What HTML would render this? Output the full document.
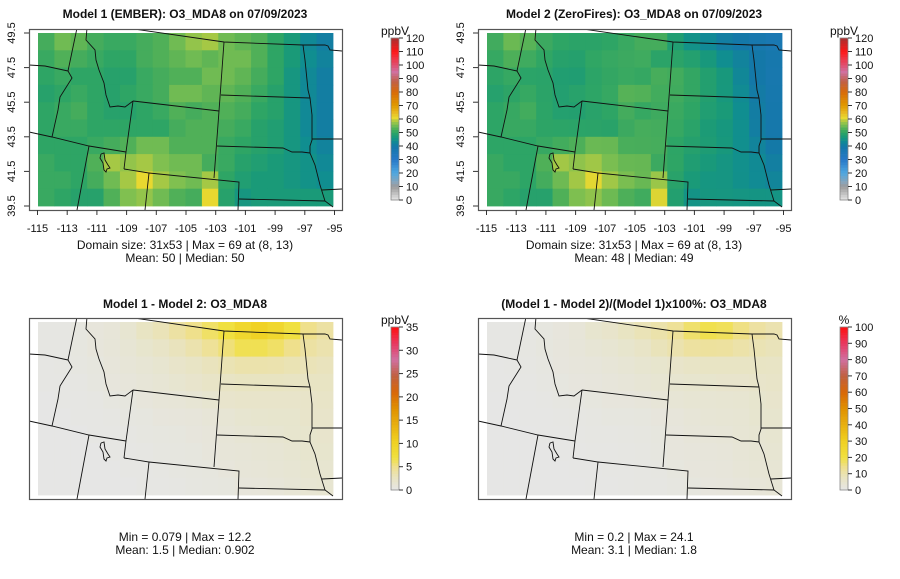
<!DOCTYPE html>
<html><head><meta charset="utf-8">
<style>
html,body{margin:0;padding:0;background:#fff;}
svg{display:block;font-family:"Liberation Sans",Arial,sans-serif;}
</style></head>
<body>
<svg id="chart" width="900" height="579" viewBox="0 0 900 579" xmlns="http://www.w3.org/2000/svg"></svg>
<script>
// ---- data (rows north->south, cols west->east), 10 x 18 coarse grid ----
const lonTicks = [-115,-113,-111,-109,-107,-105,-103,-101,-99,-97,-95];
const latTicks = [39.5,41.5,43.5,45.5,47.5,49.5];
const model1 = [
[52,55,54,52,51,51,52,53,55,57,58,55,54,53,50,47,43,41],
[51,53,52,51,50,50,52,53,54,55,54,55,55,53,50,47,44,42],
[50,51,50,50,49,49,51,52,53,53,55,55,54,52,50,46,43,41],
[49,50,51,50,49,50,51,52,55,55,54,54,53,51,49,46,43,41],
[50,51,52,50,49,49,50,51,53,52,53,53,52,50,49,46,43,41],
[50,51,51,50,50,50,50,50,52,53,53,52,51,49,48,46,43,41],
[50,50,50,51,52,53,55,55,53,53,53,51,50,49,48,46,44,42],
[51,50,50,53,58,57,58,56,55,55,52,51,49,48,47,46,45,43],
[51,51,50,52,55,58,61,58,56,55,58,50,48,47,47,46,45,44],
[51,50,49,49,53,56,57,55,53,52,61,49,46,47,47,47,47,47]];
const diff = [
[0.3,0.3,0.5,0.8,1,1.5,2.5,3,4,5,6,7,9,10,9,7,5,4],
[0.3,0.3,0.5,0.8,1,1.3,1.8,2.2,2.8,3.5,4.5,5.5,6.5,6.5,6,5,4,3.5],
[0.2,0.3,0.4,0.6,0.9,1.1,1.3,1.6,2,2.4,2.8,3.2,3.6,3.6,3.5,3.2,3,2.8],
[0.2,0.2,0.3,0.5,0.7,0.9,1.1,1.3,1.6,1.9,2.2,2.4,2.6,2.6,2.6,2.5,2.5,2.5],
[0.1,0.2,0.2,0.3,0.5,0.6,0.8,1,1.1,1.3,1.6,1.9,2,2,2,2,2.1,2.2],
[0.1,0.1,0.2,0.2,0.3,0.4,0.5,0.7,0.8,0.9,1.1,1.3,1.6,1.7,1.8,1.8,2,2],
[0.1,0.1,0.1,0.2,0.2,0.3,0.4,0.5,0.6,0.7,0.9,1.1,1.3,1.4,1.5,1.7,1.8,1.9],
[0.1,0.1,0.1,0.1,0.2,0.2,0.3,0.4,0.5,0.6,0.8,1,1.1,1.2,1.3,1.5,1.7,1.8],
[0.1,0.1,0.1,0.1,0.1,0.2,0.2,0.3,0.4,0.5,0.6,0.8,1,1.1,1.2,1.4,1.6,1.6],
[0.1,0.1,0.1,0.1,0.1,0.1,0.2,0.2,0.3,0.4,0.5,0.6,0.8,0.9,1,1.2,1.4,1.5]];
const ppbTicks = [0,10,20,30,40,50,60,70,80,90,100,110,120];
const diffTicks = [0,5,10,15,20,25,30,35];
const pctTicks = [0,10,20,30,40,50,60,70,80,90,100];

const NS="http://www.w3.org/2000/svg";
const svg=document.getElementById('chart');
function mk(tag,attrs,parent){const e=document.createElementNS(NS,tag);for(const k in attrs)e.setAttribute(k,attrs[k]);(parent||svg).appendChild(e);return e;}
function hex(h){return [parseInt(h.substr(1,2),16),parseInt(h.substr(3,2),16),parseInt(h.substr(5,2),16)];}
function interp(stops,t){
  if(t<=stops[0][0])return stops[0][1];
  for(let i=1;i<stops.length;i++){if(t<=stops[i][0]){const a=stops[i-1],b=stops[i];const f=(t-a[0])/(b[0]-a[0]);const A=hex(a[1]),B=hex(b[1]);return 'rgb('+A.map((v,j)=>Math.round(v+(B[j]-v)*f)).join(',')+')';}}
  return stops[stops.length-1][1];
}
const ppbStops=[[0,'#e6e6e6'],[10,'#9a9a9a'],[13,'#8aa4b8'],[20,'#50a8e0'],[30,'#2878c8'],[40,'#1478a8'],[44,'#108e90'],[47,'#1a9a78'],[50,'#2ea565'],[53,'#50b058'],[56,'#80c050'],[59,'#b8cc40'],[61,'#e8d830'],[65,'#e8b820'],[70,'#e09a00'],[80,'#d86a08'],[88,'#c06048'],[95,'#d070a0'],[100,'#e05070'],[110,'#ff1818'],[120,'#a83030']];
const diffStops=[[0,'#e6e6e6'],[0.07,'#e8e4c4'],[0.14,'#efe090'],[0.2,'#f0e040'],[0.3,'#f0d020'],[0.4,'#e8b010'],[0.5,'#e09000'],[0.6,'#d86808'],[0.7,'#c06040'],[0.8,'#d070a0'],[0.9,'#e83860'],[1,'#ff1010']];

const X0=37.5, PXDEG=14.85, Y0=33, PYDEG=17.3;
function lonX(lon){return X0+(lon+115)*PXDEG;}
function latY(lat){return Y0+(49.5-lat)*PYDEG;}
const GX0=38, GX1=333, GY0=33, GY1=206;

const borders=[
 [[127,28],[224,42],[303,45],[325,45],[328,46],[330,50],[342,51]],
 [[77,28],[68,71]],
 [[29,65],[45,66],[68,71]],
 [[68,71],[72,78],[60,97],[58,110],[52,137]],
 [[29,132],[52,137],[89,146],[126,152]],
 [[89,146],[77,210]],
 [[133,101],[126,152],[124,169]],
 [[124,169],[149,173],[145,210]],
 [[149,173],[239,182],[238,210]],
 [[87,28],[86,40],[95,50],[96,60],[99,70],[104,83],[106,95],[110,107],[118,106],[125,107],[133,101]],
 [[133,101],[219,111]],
 [[224,42],[219,111],[214,178]],
 [[221,95],[310,98]],
 [[217,146],[283,148],[292,152],[302,152],[310,153]],
 [[239,199],[325,201]],
 [[303,45],[305,60],[308,90],[310,98],[312,115],[312,140],[310,146],[310,153],[315,165],[320,185],[325,201],[333,207]],
 [[312,139],[342,139]],
 [[322,190],[342,189]]
];
const lake=[[101,154],[104,153],[105,160],[108,165],[110,168],[107,169],[106,172],[104,170],[103,163],[100,158],[101,154]];

function panel(dx,dy,grid,colorFn,name,withAxes){
  const g=mk('g',{});
  
  
  const rows=grid.length, cols=grid[0].length;
  const cw=(GX1-GX0)/cols, ch=(GY1-GY0)/rows;
  for(let r=0;r<rows;r++)for(let c=0;c<cols;c++){
    const rc=mk('rect',{x:(dx+GX0+c*cw).toFixed(2),y:(dy+GY0+r*ch).toFixed(2),width:(cw+0.4).toFixed(2),height:(ch+0.4).toFixed(2),fill:colorFn(grid[r][c])},g);
    
    
  }
  const bg=mk('g',{fill:'none',stroke:'#111','stroke-width':0.9},g);
  
  
  const cp='clip'+name;
  const cl=mk('clipPath',{id:cp},svg);mk('rect',{x:dx+29,y:dy+29,width:313,height:181},cl);
  bg.setAttribute('clip-path','url(#'+cp+')');
  borders.forEach(b=>mk('polyline',{points:b.map(p=>(p[0]+dx)+','+(p[1]+dy)).join(' ')},bg));
  mk('polyline',{points:lake.map(p=>(p[0]+dx)+','+(p[1]+dy)).join(' ')},bg);
  const box=mk('rect',{x:dx+29.5,y:dy+29.5,width:313,height:181,fill:'none',stroke:'#555','stroke-width':1.2},g);
  
  
  if(withAxes){
    lonTicks.forEach(l=>{const x=dx+lonX(l);mk('line',{x1:x,x2:x,y1:dy+210,y2:dy+215,stroke:'#333'},g);
      const t=mk('text',{x:x,y:dy+232,'font-size':11,'text-anchor':'middle',fill:'#111'},g);t.textContent=l;
      });
    latTicks.forEach(l=>{const y=dy+latY(l);mk('line',{x1:dx+24,x2:dx+29,y1:y,y2:y,stroke:'#333'},g);
      const t=mk('text',{x:0,y:0,'font-size':11,'text-anchor':'middle',fill:'#111',transform:'translate('+(dx+15)+','+y+') rotate(-90)'},g);t.textContent=l.toFixed(1);
      });
  }
}
function text(x,y,s,opts,name){const t=mk('text',Object.assign({x:x,y:y,'font-size':12,'text-anchor':'middle',fill:'#111'},opts||{}));t.textContent=s;
  return t;}
function colorbar(x,y0,y1,max,ticks,colorFn,unit,name){
  const g=mk('g',{});
  
  
  const n=60, h=(y1-y0)/n;
  for(let i=0;i<n;i++){const v=max*(i+0.5)/n;mk('rect',{x:x,y:(y1-(i+1)*h).toFixed(2),width:8,height:(h+0.3).toFixed(2),fill:colorFn(v)},g);}
  mk('rect',{x:x,y:y0,width:8,height:y1-y0,fill:'none',stroke:'#888','stroke-width':0.8},g);
  ticks.forEach(v=>{const y=y1-(y1-y0)*v/max;mk('line',{x1:x+8,x2:x+12,y1:y,y2:y,stroke:'#333'},g);
    const t=mk('text',{x:x+15,y:y+4,'font-size':11,fill:'#111'},g);t.textContent=v;
    });
  const u=mk('text',{x:x+4,y:y0-3,'font-size':12,'text-anchor':'middle',fill:'#111'},g);u.textContent=unit;
  
}
const model2=model1.map((r,i)=>r.map((v,j)=>v-diff[i][j]));
const pct=model1.map((r,i)=>r.map((v,j)=>diff[i][j]/v*100));
const ppbColor=v=>interp(ppbStops,v);
panel(0,0,model1,ppbColor,'model1-map',true);
panel(449,0,model2,ppbColor,'model2-map',true);
panel(0,289,diff,v=>interp(diffStops,v/35),'difference-map',false);
panel(449,289,pct,v=>interp(diffStops,v/100),'percent-difference-map',false);

text(185,18,'Model 1 (EMBER): O3_MDA8 on 07/09/2023',{'font-weight':'bold'},'model1-title');
text(634,18,'Model 2 (ZeroFires): O3_MDA8 on 07/09/2023',{'font-weight':'bold'},'model2-title');
text(185,308,'Model 1 - Model 2: O3_MDA8',{'font-weight':'bold'},'difference-title');
text(634,308,'(Model 1 - Model 2)/(Model 1)x100%: O3_MDA8',{'font-weight':'bold'},'percent-title');
text(185,249,'Domain size: 31x53 | Max = 69 at (8, 13)',{},'model1-stats-line1');
text(185,262,'Mean: 50 |  Median: 50',{},'model1-stats-line2');
text(634,249,'Domain size: 31x53 | Max = 69 at (8, 13)',{},'model2-stats-line1');
text(634,262,'Mean: 48 |  Median: 49',{},'model2-stats-line2');
text(185,541,'Min = 0.079 | Max = 12.2',{},'difference-stats-line1');
text(185,554,'Mean: 1.5 |  Median: 0.902',{},'difference-stats-line2');
text(634,541,'Min = 0.2 | Max = 24.1',{},'percent-stats-line1');
text(634,554,'Mean: 3.1 |  Median: 1.8',{},'percent-stats-line2');

colorbar(391,38,200,120,ppbTicks,ppbColor,'ppbV','model1-colorbar');
colorbar(840,38,200,120,ppbTicks,ppbColor,'ppbV','model2-colorbar');
colorbar(391,327,490,35,diffTicks,v=>interp(diffStops,v/35),'ppbV','difference-colorbar');
colorbar(840,327,490,100,pctTicks,v=>interp(diffStops,v/100),'%','percent-colorbar');
</script>
</body></html>
